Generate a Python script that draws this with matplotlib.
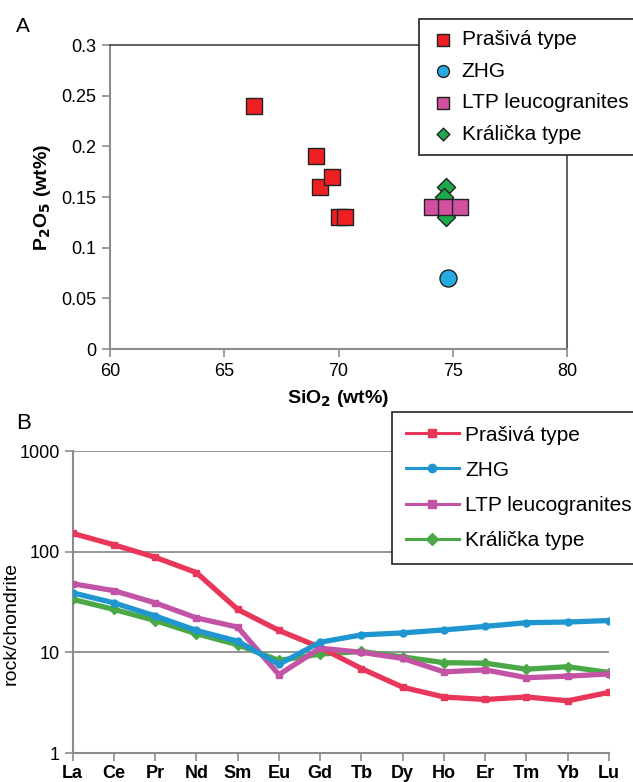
import matplotlib
matplotlib.use('Agg')
from matplotlib import pyplot as plt
from matplotlib.lines import Line2D

plt.rcParams['font.family'] = ['Liberation Sans', 'DejaVu Sans']

# panel A data
pra_si = [66.3, 69.0, 69.2, 69.7, 70.0, 70.3]
pra_p = [0.24, 0.19, 0.16, 0.17, 0.13, 0.13]
zhg_si = [74.8]
zhg_p = [0.07]
ltp_si = [74.1, 74.7, 75.3]
ltp_p = [0.14, 0.14, 0.14]
kra_si = [74.7, 74.6, 74.7]
kra_p = [0.16, 0.15, 0.13]

# panel B data (chondrite normalised REE)
ree = ['La', 'Ce', 'Pr', 'Nd', 'Sm', 'Eu', 'Gd', 'Tb', 'Dy', 'Ho', 'Er', 'Tm', 'Yb', 'Lu']
pra_ree = [152, 117, 88, 62, 26.7, 16.5, 11.2, 6.9, 4.5, 3.6, 3.4, 3.6, 3.3, 4.0]
zhg_ree = [39, 31, 23, 16.5, 12.9, 7.6, 12.6, 14.9, 15.6, 16.7, 18.1, 19.7, 20, 20.7]
ltp_ree = [48, 41, 31, 22, 17.8, 6.0, 11, 10, 8.7, 6.4, 6.7, 5.6, 5.8, 6.1]
kra_ree = [33.6, 26.7, 20.7, 15.3, 11.9, 8.3, 9.6, 10.2, 9.0, 7.9, 7.8, 6.8, 7.2, 6.3]

W, H = 633, 782
fig = plt.figure(figsize=(W/100, H/100), dpi=100)

grey = '#8c8c8c'

# ---------- panel A ----------
axA = fig.add_axes([110/W, 1-349/H, (567-110)/W, (349-45)/H])
axA.scatter(pra_si, pra_p, marker='s', s=140, c='#ee2024', edgecolors='#222222', linewidths=1, zorder=3, label='Prašivá type')
axA.scatter(zhg_si, zhg_p, marker='o', s=150, c='#27aae1', edgecolors='#222222', linewidths=1, zorder=3, label='ZHG')
axA.scatter(kra_si, kra_p, marker='D', s=85, c='#1daa4b', edgecolors='#222222', linewidths=1, zorder=3, label='Králička type')
axA.scatter(ltp_si, ltp_p, marker='s', s=140, c='#d34fa0', edgecolors='#222222', linewidths=1, zorder=4, label='LTP leucogranites')
axA.set_xlim(60, 80)
axA.set_ylim(0, 0.3)
axA.set_xticks([60, 65, 70, 75, 80])
axA.set_yticks([0, 0.05, 0.1, 0.15, 0.2, 0.25, 0.3])
axA.set_yticklabels(['0', '0.05', '0.1', '0.15', '0.2', '0.25', '0.3'])
axA.tick_params(labelsize=13, color=grey, length=6, width=1.2, pad=4)
for s in ['left', 'bottom']:
    axA.spines[s].set_color(grey)
    axA.spines[s].set_linewidth(1.5)
for s in ['top', 'right']:
    axA.spines[s].set_color('#444444')
    axA.spines[s].set_linewidth(1.2)
axA.set_xlabel('SiO$_\\mathbf{2}$ (wt%)', fontsize=14, fontweight='bold', labelpad=6)
axA.set_ylabel('P$_\\mathbf{2}$O$_\\mathbf{5}$ (wt%)', fontsize=14, fontweight='bold', labelpad=6)
hA, lA = axA.get_legend_handles_labels()
order = [0, 1, 3, 2]
legA = fig.legend([hA[i] for i in order], [lA[i] for i in order], loc='upper left',
                  bbox_to_anchor=(419/W, 1-19/H), fontsize=15, frameon=True, fancybox=False,
                  edgecolor='#222222', framealpha=1, borderaxespad=0, labelspacing=0.6,
                  handletextpad=0.3, borderpad=0.55, handlelength=1.2, markerscale=0.7)
legA.get_frame().set_linewidth(1.2)
fig.text(16/W, 1-27/H, 'A', fontsize=15, va='center')

# ---------- panel B ----------
axB = fig.add_axes([72.6/W, 1-753/H, (609-72.6)/W, (753-451)/H])
x = list(range(len(ree)))
series = [(pra_ree, '#e8375a', 's', 'Prašivá type'),
          (zhg_ree, '#1f96d0', 'o', 'ZHG'),
          (ltp_ree, '#c253a5', 's', 'LTP leucogranites'),
          (kra_ree, '#4ba847', 'D', 'Králička type')]
for vals, col, mk, lab in [series[3], series[0], series[2], series[1]]:
    axB.plot(x, vals, color=col, lw=3.8, marker=mk, ms=5, zorder=3)
axB.set_yscale('log')
axB.set_ylim(1, 1000)
axB.set_xlim(0, len(ree)-1)
axB.set_yticks([1, 10, 100, 1000])
axB.set_yticklabels(['1', '10', '100', '1000'])
axB.minorticks_off()
axB.set_xticks(x)
axB.set_xticklabels(ree, fontweight='bold')
axB.tick_params(labelsize=13, color=grey, length=6, width=1.2, pad=3)
axB.yaxis.grid(True, color=grey, lw=1.3)
axB.set_axisbelow(True)
for s in ['top', 'right']:
    axB.spines[s].set_visible(False)
for s in ['left', 'bottom']:
    axB.spines[s].set_color(grey)
    axB.spines[s].set_linewidth(1.5)
axB.set_ylabel('rock/chondrite', fontsize=14)
axB.yaxis.set_label_coords(-0.098, 0.43)
hB = [Line2D([], [], color=c, lw=2.2, marker=m, ms=6) for v, c, m, l in series]
legB = fig.legend(hB, [s[3] for s in series], loc='upper left',
                  bbox_to_anchor=(392/W, 1-412/H), fontsize=15, frameon=True, fancybox=False,
                  edgecolor='#222222', framealpha=1, borderaxespad=0, labelspacing=0.78,
                  handletextpad=0.3, borderpad=0.65, handlelength=2.55)
legB.get_frame().set_linewidth(1.2)
fig.text(16/W, 1-423/H, 'B', fontsize=16, va='center')

fig.savefig('out.png', dpi=100)
